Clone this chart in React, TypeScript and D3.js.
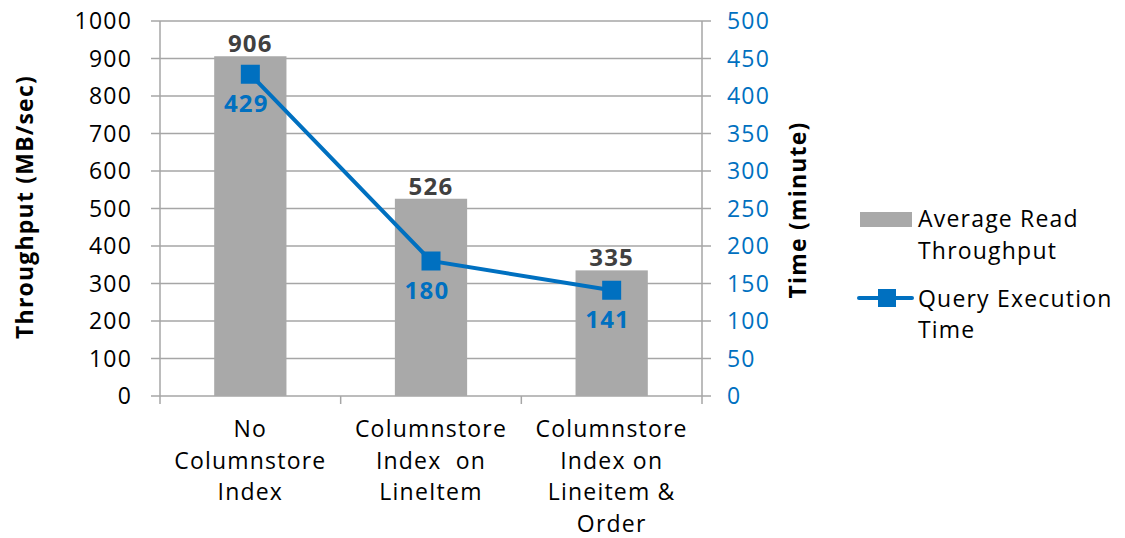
import React from "react";
import * as d3 from "d3";

const categories: string[][] = [
  ["No", "Columnstore", "Index"],
  ["Columnstore", "Index  on", "LineItem"],
  ["Columnstore", "Index on", "Lineitem &", "Order"],
];
const throughput = [906, 526, 335];
const execTime = [429, 180, 141];
const leftTicks = [0, 100, 200, 300, 400, 500, 600, 700, 800, 900, 1000];
const rightTicks = [0, 50, 100, 150, 200, 250, 300, 350, 400, 450, 500];
const seriesNames = [["Average Read", "Throughput"], ["Query Execution", "Time"]];

const W = 1125;
const H = 538;
const FONT = "'Open Sans', sans-serif";
const BAR = "#A9A9A9";
const BLUE = "#0070C0";
const GRID = "#A6A6A6";
const LS = 1.2;

export default function App() {
  const left = 160, right = 702, top = 21, bottom = 396;
  const x = d3.scaleBand<number>().domain([0, 1, 2]).range([left, right]).paddingInner(0).paddingOuter(0);
  const yL = d3.scaleLinear().domain([0, 1000]).range([bottom, top]);
  const yR = d3.scaleLinear().domain([0, 500]).range([bottom, top]);
  const barW = x.bandwidth() * 0.4;
  const cx = (i: number) => (x(i) as number) + x.bandwidth() / 2;
  const line = d3.line<number>().x((_, i) => cx(i)).y((d) => yR(d));
  const fs = 23;
  const ms = 19;
  const common = { fontFamily: FONT, fontSize: fs, letterSpacing: LS };
  return (
    <svg width={W} height={H} style={{ position: "absolute", left: 0, top: 0, background: "#fff" }}>
      {leftTicks.map((t) => (
        <line key={"g" + t} x1={left - 9} x2={right + 9} y1={yL(t)} y2={yL(t)} stroke={GRID} strokeWidth={1.5} />
      ))}
      <line x1={left} x2={left} y1={top} y2={bottom + 8} stroke={GRID} strokeWidth={1.5} />
      <line x1={right} x2={right} y1={top} y2={bottom + 8} stroke={GRID} strokeWidth={1.5} />
      {[1, 2].map((i) => (
        <line key={"xt" + i} x1={x(i) as number} x2={x(i) as number} y1={bottom} y2={bottom + 8} stroke={GRID} strokeWidth={1.5} />
      ))}
      {leftTicks.map((t) => (
        <text key={"lt" + t} x={left - 28} y={yL(t)} dy="0.35em" textAnchor="end" {...common} fill="#000">
          {t}
        </text>
      ))}
      {rightTicks.map((t) => (
        <text key={"rt" + t} x={right + 25} y={yR(t)} dy="0.35em" textAnchor="start" {...common} fill={BLUE}>
          {t}
        </text>
      ))}
      <text transform={`translate(33,207) rotate(-90)`} textAnchor="middle" {...common} fontWeight="bold" fill="#000">
        Throughput (MB/sec)
      </text>
      <text transform={`translate(806,210) rotate(-90)`} textAnchor="middle" {...common} fontWeight="bold" fill="#000">
        Time (minute)
      </text>
      {throughput.map((v, i) => (
        <rect key={"b" + i} x={cx(i) - barW / 2} y={yL(v)} width={barW} height={bottom - yL(v)} fill={BAR} />
      ))}
      {throughput.map((v, i) => (
        <text key={"bl" + i} x={cx(i)} y={yL(v) - 4} textAnchor="middle" {...common} fontSize={24} fontWeight="bold" fill="#404040">
          {v}
        </text>
      ))}
      <path d={line(execTime) as string} fill="none" stroke={BLUE} strokeWidth={4} />
      {execTime.map((v, i) => (
        <rect key={"m" + i} x={cx(i) - ms / 2} y={yR(v) - ms / 2} width={ms} height={ms} fill={BLUE} />
      ))}
      {execTime.map((v, i) => (
        <text key={"ml" + i} x={cx(i) - 4} y={yR(v) + 38} textAnchor="middle" {...common} fontSize={24} fontWeight="bold" fill={BLUE}>
          {v}
        </text>
      ))}
      {categories.map((lines, i) => (
        <text key={"c" + i} textAnchor="middle" {...common} fill="#000">
          {lines.map((l, j) => (
            <tspan key={j} x={cx(i)} y={437 + j * 31.5} style={{ whiteSpace: "pre" }}>
              {l}
            </tspan>
          ))}
        </text>
      ))}
      <rect x={860} y={212} width={52} height={15} fill={BAR} />
      <text {...common} fill="#000">
        <tspan x={918} y={227}>{seriesNames[0][0]}</tspan>
        <tspan x={918} y={259}>{seriesNames[0][1]}</tspan>
      </text>
      <line x1={859} x2={912} y1={298} y2={298} stroke={BLUE} strokeWidth={4} strokeLinecap="round" />
      <rect x={878} y={289} width={18} height={18} fill={BLUE} />
      <text {...common} fill="#000">
        <tspan x={918} y={307}>{seriesNames[1][0]}</tspan>
        <tspan x={918} y={338}>{seriesNames[1][1]}</tspan>
      </text>
    </svg>
  );
}
